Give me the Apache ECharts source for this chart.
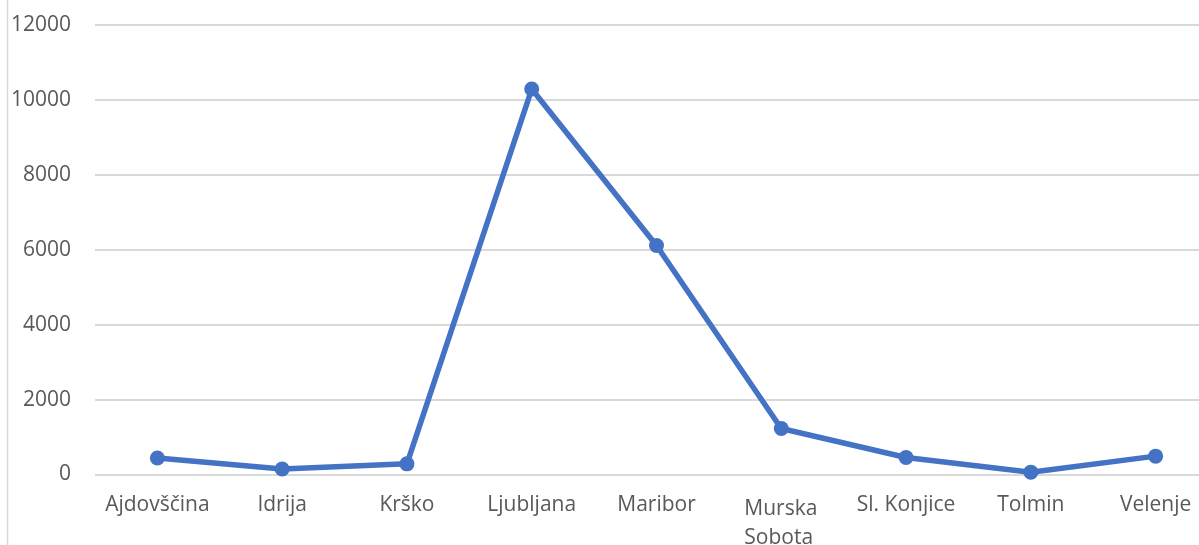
<!DOCTYPE html>
<html>
<head>
<meta charset="utf-8">
<script src="https://cdn.jsdelivr.net/npm/echarts@6/dist/echarts.min.js"></script>
<style>
    html, body { margin: 0; padding: 0; background: #fff; overflow: hidden; }
    /* the plot runs past the right edge of the window, as in the original */
    #chart { width: 1218px; height: 545px; }
</style>
</head>
<body>
<div id="chart"></div>
<script>
// podatki
const categories = ['Ajdovščina', 'Idrija', 'Krško', 'Ljubljana', 'Maribor', 'Murska Sobota', 'Sl. Konjice', 'Tolmin', 'Velenje']
const values = [440, 145, 285, 10290, 6115, 1228, 455, 62, 490]
const yTicks = [0, 2000, 4000, 6000, 8000, 10000, 12000]

const textColor = '#595959'
const fontFamily = '"Open Sans", "Liberation Sans", sans-serif'
const fontSize = 21

let myChart = echarts.init(document.getElementById('chart'))

let option = {
    backgroundColor: '#fff',
    animation: false,
    grid: {
        left: 95,
        right: 0,
        top: 25,
        bottom: 70.5,
        containLabel: false,
        outerBoundsMode: 'none'
    },
    graphic: [{
        type: 'line',
        shape: { x1: 7.5, y1: 0, x2: 7.5, y2: 545 },
        style: { stroke: '#d9d9d9', lineWidth: 1.5 }
    }],
    xAxis: {
        type: 'category',
        data: categories,
        boundaryGap: true,
        axisLine: { show: false },
        axisTick: { show: false },
        axisLabel: {
            interval: 0,
            margin: 20,
            color: textColor,
            fontFamily: fontFamily,
            fontSize: fontSize,
            formatter: name => {
                // dvovrstični napis, poravnan levo
                if (name === 'Murska Sobota') {
                    return '{l|Murska}\n{l|Sobota}'
                }
                return name
            },
            rich: {
                l: {
                    width: 74,
                    align: 'left',
                    color: textColor,
                    fontFamily: fontFamily,
                    fontSize: fontSize,
                    lineHeight: 29
                }
            }
        }
    },
    yAxis: {
        type: 'value',
        min: yTicks[0],
        max: yTicks[yTicks.length - 1],
        interval: 2000,
        axisLine: { show: false },
        axisTick: { show: false },
        axisLabel: {
            margin: 24,
            color: textColor,
            fontFamily: fontFamily,
            fontSize: fontSize,
            formatter: v => String(v)
        },
        splitLine: {
            lineStyle: { color: '#d9d9d9', width: 2 }
        }
    },
    series: [{
        type: 'line',
        data: values,
        symbol: 'circle',
        symbolSize: 15,
        lineStyle: { color: '#4472c4', width: 5.5 },
        itemStyle: { color: '#4472c4' }
    }]
}

myChart.setOption(option)
</script>
</body>
</html>
